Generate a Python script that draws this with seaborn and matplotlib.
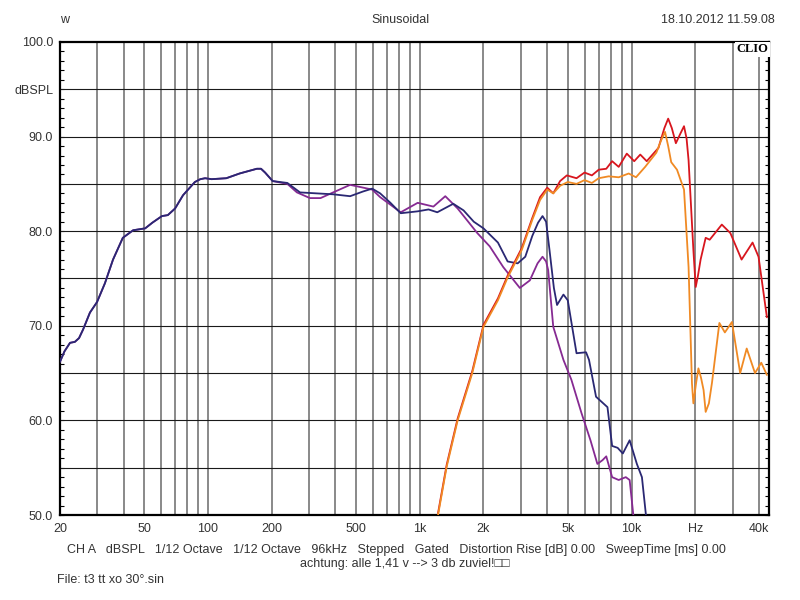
import numpy as np
import pandas as pd
import seaborn as sns
import matplotlib.pyplot as plt

# frequency responses (Hz, dBSPL)
blue_freq = [20, 21, 22.3, 23.5, 24.6, 25.7, 27.7, 29.9, 32.6, 35.6, 39.6, 44.3, 50.5, 54.6, 60.6,
             64.6, 69.9, 76.2, 86.7, 92, 96.9, 104, 122, 141, 170, 178, 186, 202, 237, 272, 325,
             390, 469, 540, 596, 650, 727, 813, 978, 1100, 1210, 1440, 1610, 1800, 2000, 2340,
             2600, 2900, 3150, 3400, 3620, 3800, 3950, 4100, 4300, 4450, 4620, 4770, 5000, 5500,
             6100, 6300, 6800, 7700, 8100, 8600, 9100, 9800, 10600, 11200, 11700]
blue_db = [66.2, 67.3, 68.2, 68.3, 68.7, 69.6, 71.4, 72.5, 74.5, 77.0, 79.3, 80.1, 80.3, 80.9, 81.6,
           81.7, 82.4, 83.8, 85.2, 85.5, 85.6, 85.5, 85.6, 86.1, 86.6, 86.6, 86.2, 85.3, 85.1, 84.1, 84.0,
           83.9, 83.7, 84.2, 84.5, 84.0, 83.0, 81.9, 82.1, 82.3, 82.0, 82.9, 82.2, 81.0, 80.3, 78.8,
           76.8, 76.6, 77.3, 79.5, 80.9, 81.6, 81.0, 78.0, 74.0, 72.2, 72.8, 73.3, 72.7, 67.1,
           67.2, 66.4, 62.5, 61.4, 57.3, 57.1, 56.5, 57.9, 55.4, 54.0, 50.0]

purple_freq = [20, 21, 22.3, 23.5, 24.6, 25.7, 27.7, 29.9, 32.6, 35.6, 39.6, 44.3, 50.5, 54.6, 60.6,
               64.6, 69.9, 76.2, 86.7, 92, 96.9, 104, 122, 141, 170, 178, 186, 202, 237, 263, 303,
               340, 390, 469, 596, 650, 727, 813, 978, 1160, 1320, 1510, 1870, 2140, 2480, 2970,
               3310, 3600, 3800, 3950, 4040, 4270, 4770, 5200, 5800, 6400, 6900, 7300, 7600, 8100,
               8700, 9400, 9800, 10200]
purple_db = [66.2, 67.3, 68.2, 68.3, 68.7, 69.6, 71.4, 72.5, 74.5, 77.0, 79.3, 80.1, 80.3, 80.9, 81.6,
             81.7, 82.4, 83.8, 85.2, 85.5, 85.6, 85.5, 85.6, 86.1, 86.6, 86.6, 86.2, 85.3, 85.0, 84.1, 83.5,
             83.5, 84.1, 84.9, 84.4, 83.6, 82.8, 82.0, 83.0, 82.6, 83.7, 82.4, 79.8, 78.4, 76.2, 74.0,
             74.8, 76.6, 77.3, 76.8, 75.9, 69.9, 66.4, 64.3, 60.8, 57.9, 55.4, 55.8, 56.2, 54.0,
             53.7, 54.0, 53.7, 50.0]

red_freq = [1220, 1340, 1510, 1770, 2000, 2340, 2600, 3030, 3400, 3700, 4000, 4270, 4600, 4950,
            5500, 6000, 6500, 7000, 7600, 8100, 8700, 9500, 10300, 11000, 11800, 13400, 14300,
            14900, 15500, 16200, 17000, 17700, 18200, 18600, 19600, 20100, 20600, 21200, 22400,
            23400, 26700, 29300, 33100, 37300, 39800, 43600]
red_db = [50.2, 55.3, 60.2, 65.2, 70.1, 72.9, 75.3, 78.2, 81.4, 83.6, 84.6, 84.0, 85.3, 85.9,
          85.6, 86.2, 85.9, 86.5, 86.6, 87.4, 86.8, 88.2, 87.4, 88.1, 87.4, 88.8, 90.9,
          91.9, 90.9, 89.3, 90.3, 91.1, 89.8, 87.5, 78.0, 74.1, 75.3, 77.0, 79.3,
          79.1, 80.7, 79.8, 77.0, 78.8, 77.3, 70.9]

orange_freq = [1220, 1340, 1510, 1770, 2000, 2340, 2600, 3030, 3400, 3700, 4000, 4270, 4600, 5000,
               5500, 6000, 6500, 7000, 7800, 8700, 9700, 10500, 11600, 13100, 13800, 14400, 14900,
               15400, 16400, 17700, 18600, 19300, 19600, 20200, 20700, 21300, 21900, 22400, 23200,
               24000, 26000, 27600, 29800, 32600, 35000, 38300, 41000, 43600]
orange_db = [50.0, 55.1, 60.0, 65.0, 69.9, 72.7, 75.1, 78.0, 81.2, 83.3, 84.4, 84.0, 84.8, 85.2,
             85.0, 85.4, 85.1, 85.6, 85.8, 85.7, 86.1, 85.7, 86.8, 88.3, 89.6, 90.5, 89.0,
             87.3, 86.5, 84.4, 76.2, 63.9, 61.8, 64.0, 65.5, 64.5, 63.2, 60.9, 61.8,
             64.0, 70.3, 69.3, 70.4, 65.0, 67.6, 65.0, 66.1, 64.8]

x_tick_freqs = [20, 50, 100, 200, 500, 1000, 2000, 5000, 10000, 20000, 40000]
x_tick_labels = ["20", "50", "100", "200", "500", "1k", "2k", "5k", "10k", "Hz", "40k"]
y_tick_vals = [50, 60, 70, 80, 90, 95, 100]
y_tick_labels = ["50.0", "60.0", "70.0", "80.0", "90.0", "dBSPL", "100.0"]

grid_freqs = ([20, 30, 40, 50, 60, 70, 80, 90, 100, 200, 300, 400, 500, 600, 700, 800, 900,
               1000, 2000, 3000, 4000, 5000, 6000, 7000, 8000, 9000, 10000, 20000, 30000, 40000])

frames = []
for name, f, db in [("purple", purple_freq, purple_db), ("blue", blue_freq, blue_db),
                    ("red", red_freq, red_db), ("orange", orange_freq, orange_db)]:
    frames.append(pd.DataFrame({"freq": f, "db": db, "curve": name}))
df = pd.concat(frames, ignore_index=True)

palette = {"purple": "#862a92", "blue": "#2a2873", "red": "#d8161e", "orange": "#f08a24"}

sns.set_theme(style="white")
plt.rcParams['font.family'] = ['Liberation Sans', 'DejaVu Sans']

fig = plt.figure(figsize=(8, 6), dpi=100)
ax = fig.add_axes([60 / 800, 85 / 600, 709 / 800, 473 / 600])

for g in grid_freqs:
    ax.axvline(g, color="#6a6a6a", lw=1.1, zorder=1)
for h in range(55, 100, 5):
    ax.axhline(h, color="#1a1a1a", lw=0.8, zorder=1)

sns.lineplot(data=df, x="freq", y="db", hue="curve", hue_order=["purple", "blue", "red", "orange"],
             palette=palette, units="curve", estimator=None, sort=False, legend=False,
             lw=1.3, solid_joinstyle="round", ax=ax, zorder=3)

ax.set_xscale("log")
ax.set_xlim(20, 44600)
ax.set_ylim(50, 100)
ax.set_xticks(x_tick_freqs)
ax.set_xticklabels(x_tick_labels)
ax.xaxis.set_minor_locator(plt.NullLocator())
ax.set_yticks(y_tick_vals)
ax.set_yticklabels(y_tick_labels)
ax.set_yticks(range(50, 101), minor=True)
ax.set_xlabel("")
ax.set_ylabel("")

ax.tick_params(axis="x", which="both", length=0, pad=6, labelsize=9, labelcolor="#333333")
ax.tick_params(axis="y", which="both", direction="in", length=3, width=0.8, color="black",
               left=True, right=True, pad=5, labelsize=9, labelcolor="#333333")

for sp in ax.spines.values():
    sp.set_color("black")
    sp.set_linewidth(1.6)

ax.text(0.999, 0.997, "CLIO", transform=ax.transAxes, ha="right", va="top",
        family="Liberation Serif", fontweight="bold", fontsize=9, color="black", zorder=5,
        bbox=dict(fc="white", ec="none", pad=1.2))

txt = dict(fontsize=9, color="#333333")
fig.text(65 / 800, 1 - 20 / 600, "w", ha="center", va="center", **txt)
fig.text(400 / 800, 1 - 20 / 600, "Sinusoidal", ha="center", va="center", **txt)
fig.text(775 / 800, 1 - 20 / 600, "18.10.2012 11.59.08", ha="right", va="center", **txt)
fig.text(396 / 800, 1 - 550 / 600,
         "CH A   dBSPL   1/12 Octave   1/12 Octave   96kHz   Stepped   Gated   "
         "Distortion Rise [dB] 0.00   SweepTime [ms] 0.00",
         ha="center", va="center", **txt)
fig.text(405 / 800, 1 - 564 / 600, "achtung: alle 1,41 v --> 3 db zuviel!\u25a1\u25a1",
         ha="center", va="center", **txt)
fig.text(57 / 800, 1 - 580 / 600, "File: t3 tt xo 30°.sin", ha="left", va="center", **txt)

fig.savefig("out.png", dpi=100)
